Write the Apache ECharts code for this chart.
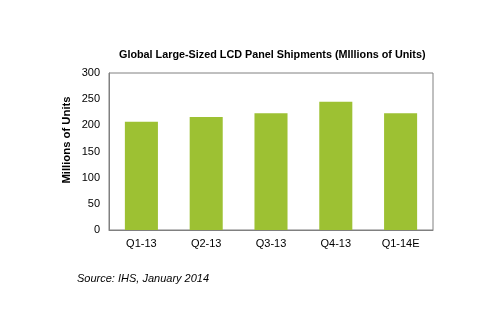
<!DOCTYPE html>
<html><head><meta charset="utf-8">
<script src="https://cdn.jsdelivr.net/npm/echarts@6/dist/echarts.min.js"></script>
<style>html,body{margin:0;padding:0;background:#fff}#c{width:500px;height:322px}</style>
</head><body><div id="c"></div>
<script>
const categories = ['Q1-13','Q2-13','Q3-13','Q4-13','Q1-14E'];
const shipments = [207, 216, 223, 245, 223];
const yTicks = [0, 50, 100, 150, 200, 250, 300];

const chart = echarts.init(document.getElementById('c'), null, {renderer:'canvas'});
chart.setOption({
  animation:false,
  backgroundColor:'#fff',
  title:[{
    text:'Global Large-Sized LCD Panel Shipments (MIllions of Units)',
    left:114, top:45,
    textStyle:{fontFamily:'Liberation Sans, Arial', fontSize:10.8, fontWeight:'bold', color:'#000'}
  },{
    text:'Source: IHS, January 2014',
    left:72, top:268,
    textStyle:{fontFamily:'Liberation Sans, Arial', fontSize:11, fontWeight:'normal', fontStyle:'italic', color:'#000'}
  }],
  graphic:[{
    type:'text', x:67, y:140, rotation:Math.PI/2,
    style:{text:'Millions of Units', fontFamily:'Liberation Sans, Arial', fontSize:11.3, fontWeight:'bold', fill:'#000', align:'center', verticalAlign:'middle'}
  }],
  grid:{left:109, top:73, right:67, bottom:92, show:true, borderColor:'#808080', borderWidth:1, backgroundColor:'transparent'},
  xAxis:{
    type:'category', data:categories,
    axisLine:{show:true, lineStyle:{color:'#808080'}},
    axisTick:{show:false},
    axisLabel:{fontFamily:'Liberation Sans, Arial', fontSize:11, color:'#000', margin:8}
  },
  yAxis:{
    type:'value', min:yTicks[0], max:yTicks[yTicks.length-1], interval:50,
    axisLine:{show:true, lineStyle:{color:'#808080'}},
    axisTick:{show:false},
    splitLine:{show:false},
    axisLabel:{fontFamily:'Liberation Sans, Arial', fontSize:11, color:'#000', margin:9}
  },
  series:[{
    type:'bar', data:shipments, barWidth:'51%',
    itemStyle:{color:'#9dc133'}
  }]
});
</script></body></html>
